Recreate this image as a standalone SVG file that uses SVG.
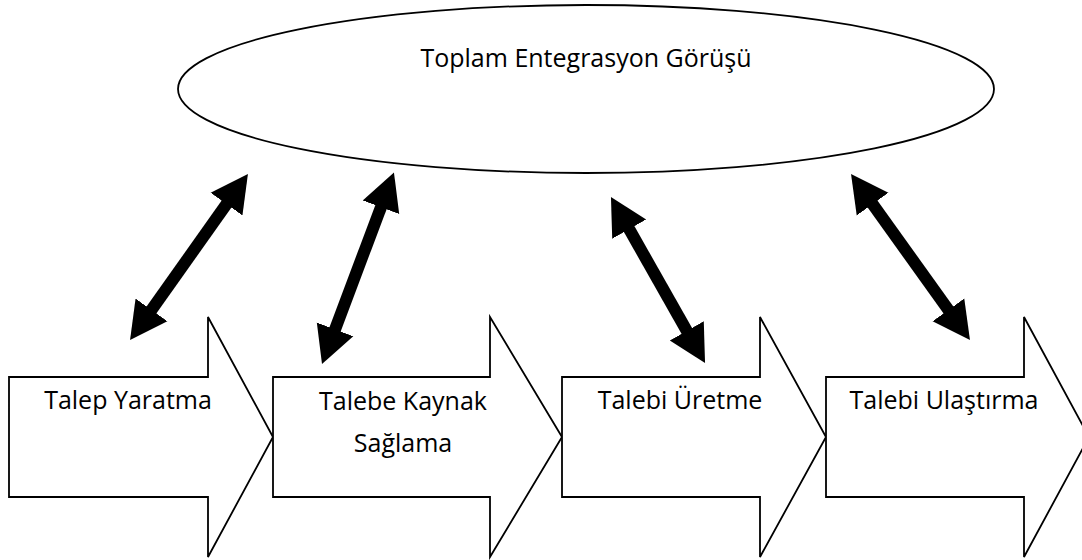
<svg xmlns="http://www.w3.org/2000/svg" width="1082" height="560" viewBox="0 0 1082 560">
  <style>
    .shape { fill: #ffffff; stroke: #000000; stroke-width: 1.8; stroke-linejoin: miter; }
    .label { font-family: "Open Sans", "Noto Sans", "Liberation Sans", sans-serif; font-size: 25px; fill: #000000; text-anchor: middle; }
    .link { stroke: #000000; stroke-width: 12; fill: none; marker-start: url(#head); marker-end: url(#head); }
  </style>
  <defs>
    <marker id="head" markerUnits="userSpaceOnUse" markerWidth="40" markerHeight="42" viewBox="0 -21 40 42" refX="1" refY="0" orient="auto-start-reverse">
      <path d="M0,-19.5 L37,0 L0,19.5 z" fill="#000000"/>
    </marker>
  </defs>

  <rect width="1082" height="560" fill="#ffffff"/>

  <g id="vision">
    <ellipse class="shape" cx="586" cy="89" rx="408" ry="84"/>
    <text class="label" x="586" y="67">Toplam Entegrasyon Görüşü</text>
  </g>

  <g id="step-create">
    <polygon class="shape" points="9,377 208,377 208,317 273,437 208,557 208,497 9,497"/>
    <text class="label" x="128" y="409">Talep Yaratma</text>
  </g>

  <g id="step-source">
    <polygon class="shape" points="273,377 490,377 490,317 562,437 490,557 490,497 273,497"/>
    <text class="label" x="403" y="410">Talebe Kaynak</text>
    <text class="label" x="403" y="452">Sağlama</text>
  </g>

  <g id="step-produce">
    <polygon class="shape" points="562,377 760,377 760,317 826,437 760,557 760,497 562,497"/>
    <text class="label" x="680" y="409">Talebi Üretme</text>
  </g>

  <g id="step-deliver">
    <polygon class="shape" points="826,377 1024,377 1024,317 1089,437 1024,557 1024,497 826,497"/>
    <text class="label" x="944" y="409">Talebi Ulaştırma</text>
  </g>

  <g id="connectors">
    <line class="link" x1="150.9" y1="310.7" x2="227.1" y2="203.3"/>
    <line class="link" x1="334.7" y1="330.3" x2="381.3" y2="206.3"/>
    <line class="link" x1="687.3" y1="331.7" x2="628.7" y2="228.3"/>
    <line class="link" x1="949.0" y1="310.7" x2="872.0" y2="203.3"/>
  </g>
</svg>
